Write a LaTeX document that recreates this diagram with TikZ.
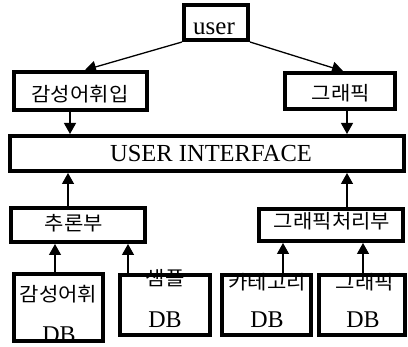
\documentclass[tikz,border=0pt]{standalone}
\usepackage{fontspec}
\setmainfont{Liberation Serif}
\newfontfamily\kr[FakeStretch=1.08]{Noto Sans CJK KR}
\usetikzlibrary{arrows.meta}
\begin{document}
\begin{tikzpicture}[x=1pt,y=-1pt,
  box/.style={draw,line width=4pt,inner sep=0pt,fill=white},
  arr/.style={line width=1.3pt,-{Triangle[length=11pt,width=12pt]}},
  lat/.style={font=\fontsize{24}{24}\selectfont,inner sep=0pt,anchor=base},
  kor/.style={font=\kr\fontsize{19.5}{19.5}\selectfont,inner sep=0pt,anchor=base}]
\useasboundingbox (0,0) rectangle (408,347);
% boxes
\node[box,minimum width=64pt,minimum height=35pt] (user) at (216,22.5) {};
\node[box,minimum width=133pt,minimum height=38pt] (kw) at (80.5,91) {};
\node[box,minimum width=110pt,minimum height=36pt] (gr) at (340,91) {};
\node[box,minimum width=394pt,minimum height=35pt] (ui) at (207,153.5) {};
\node[box,minimum width=134pt,minimum height=34pt] (inf) at (78,225) {};
\node[box,minimum width=144pt,minimum height=32pt] (gp) at (331,225) {};
\node[box,minimum width=89pt,minimum height=67pt] (db1) at (58.5,307.5) {};
\node[box,minimum width=90pt,minimum height=60pt] (db2) at (165,305) {};
\node[box,minimum width=89pt,minimum height=60pt] (db3) at (266.5,305) {};
\node[box,minimum width=86pt,minimum height=60pt] (db4) at (362,305) {};
% texts
\node[lat,font=\fontsize{25}{25}\selectfont] (usert) at (214,35) {user};
\node[kor] (kwt) at (80,101.5) {감성어휘입};
\node[kor] (grt) at (341,100.5) {그래픽};
\node[lat,font=\fontsize{24.5}{24.5}\selectfont] (uit) at (211,162) {USER INTERFACE};
\node[kor] (inft) at (74,231) {추론부};
\node[kor] (gpt) at (332,229) {그래픽처리부};
\node[kor] (t1a) at (58.5,301.5) {감성어휘};
\node[lat] (t1b) at (59,343) {DB};
\node[kor] (t2a) at (165,286) {샘플};
\node[lat] (t2b) at (165,328) {DB};
\node[kor] (t3a) at (267,289.5) {카테고리};
\node[lat] (t3b) at (267,328) {DB};
\node[kor] (t4a) at (365,289.5) {그래픽};
\node[lat] (t4b) at (363,328) {DB};
% x positions of connectors
\coordinate (a1) at (85,0);
\coordinate (a2) at (343,0);
\coordinate (x70) at (70,0);
\coordinate (x347) at (347,0);
\coordinate (x68) at (68,0);
\coordinate (x55) at (55,0);
\coordinate (x128) at (128,0);
\coordinate (x283) at (283,0);
\coordinate (x363) at (363,0);
% connectors
\draw[arr] (user.south west) -- (kw.north -| a1);
\draw[arr] (user.south east) -- (gr.north -| a2);
\draw[arr] (kw.south -| x70) -- (ui.north -| x70);
\draw[arr] (gr.south -| x347) -- (ui.north -| x347);
\draw[arr] (inf.north -| x68) -- (ui.south -| x68);
\draw[arr] (gp.north -| x347) -- (ui.south -| x347);
\draw[arr] (db1.north -| x55) -- (inf.south -| x55);
\draw[arr] (db2.north -| x128) -- (inf.south -| x128);
\draw[arr] (db3.north -| x283) -- (gp.south -| x283);
\draw[arr] (db4.north -| x363) -- (gp.south -| x363);
\end{tikzpicture}
\end{document}
